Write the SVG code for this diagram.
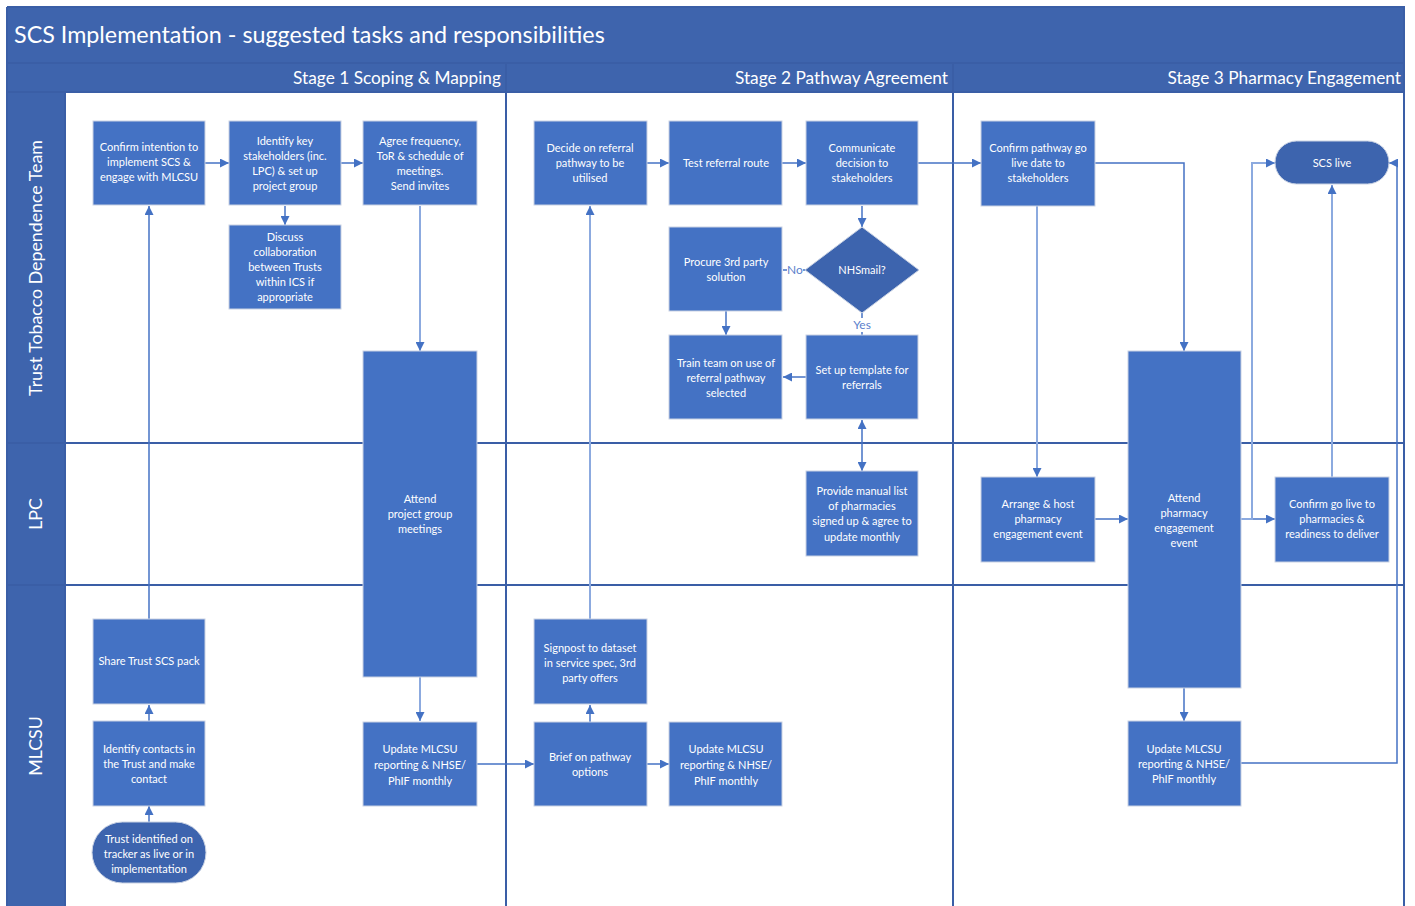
<svg xmlns="http://www.w3.org/2000/svg" width="1415" height="906" viewBox="0 0 1415 906">
<style>
.bar{fill:#3e64ad}
.frame{stroke:#3a5ea6;stroke-width:2;fill:none}
.node rect,.node path{fill:#4472c4;stroke:#c9d2e3;stroke-width:1}
.node .dark{fill:#3d64ae}
.node text{font-family:Lato,"Liberation Sans",sans-serif;font-size:11px;fill:#ffffff;text-anchor:middle}
.title{font-family:Lato,"Liberation Sans",sans-serif;font-size:23.3px;fill:#ffffff}
.stage{font-family:Lato,"Liberation Sans",sans-serif;font-size:17.3px;fill:#ffffff;text-anchor:end}
.lane{font-family:Lato,"Liberation Sans",sans-serif;font-size:17.8px;fill:#ffffff;text-anchor:middle}
.c{stroke:#4472c4;stroke-width:1.5;fill:none}
.lt{stroke:#8caadf;stroke-width:2;fill:none}
.lbl{font-family:Lato,"Liberation Sans",sans-serif;font-size:12px;fill:#5b7fcc;text-anchor:middle}
</style>
<defs>
<marker id="ah" viewBox="0 0 10 10" refX="10" refY="5" markerWidth="9" markerHeight="9" markerUnits="userSpaceOnUse" orient="auto-start-reverse">
<path d="M0,0 L10,5 L0,10 z" fill="#4472c4"/>
</marker>
</defs>
<rect x="0" y="0" width="1415" height="906" fill="#ffffff"/>
<g id="frame">
<rect class="bar" x="7" y="7" width="1398" height="56"/>
<rect class="bar" x="7" y="63" width="1398" height="29"/>
<rect class="bar" x="7" y="92" width="58" height="814"/>
<text class="title" x="14" y="43">SCS Implementation - suggested tasks and responsibilities</text>
<text class="stage" x="501" y="84">Stage 1 Scoping &amp; Mapping</text>
<text class="stage" x="948" y="84">Stage 2 Pathway Agreement</text>
<text class="stage" x="1401" y="84">Stage 3 Pharmacy Engagement</text>
<text class="lane" transform="translate(42,268) rotate(-90)">Trust Tobacco Dependence Team</text>
<text class="lane" transform="translate(42,514) rotate(-90)">LPC</text>
<text class="lane" transform="translate(42,746) rotate(-90)">MLCSU</text>
<line class="frame" x1="7" y1="63" x2="1405" y2="63" stroke="#2f5597"/>
<line class="frame" x1="7" y1="92" x2="1405" y2="92"/>
<line class="frame" x1="7" y1="443" x2="1405" y2="443"/>
<line class="frame" x1="7" y1="585" x2="1405" y2="585"/>
<line class="frame" x1="65" y1="92" x2="65" y2="906"/>
<line class="frame" x1="506" y1="63" x2="506" y2="906"/>
<line class="frame" x1="953" y1="63" x2="953" y2="906"/>
<line class="frame" x1="1404" y1="7" x2="1404" y2="906"/>
<line class="frame" x1="7" y1="7" x2="7" y2="906"/>
<line class="frame" x1="7" y1="7" x2="1405" y2="7"/>
</g>
<g id="connectors">
<line class="c" x1="205" y1="163" x2="229" y2="163" marker-end="url(#ah)"/>
<line class="c" x1="341" y1="163" x2="363" y2="163" marker-end="url(#ah)"/>
<line class="c" x1="285" y1="206" x2="285" y2="225" marker-end="url(#ah)"/>
<line class="lt" x1="420" y1="206" x2="420" y2="351" marker-end="url(#ah)"/>
<line class="c" x1="149" y1="619" x2="149" y2="206" marker-end="url(#ah)"/>
<line class="c" x1="149" y1="721" x2="149" y2="705" marker-end="url(#ah)"/>
<line class="c" x1="149" y1="822" x2="149" y2="806" marker-end="url(#ah)"/>
<line class="lt" x1="420" y1="677" x2="420" y2="721" marker-end="url(#ah)"/>
<line class="c" x1="477" y1="764" x2="534" y2="764" marker-end="url(#ah)"/>
<line class="c" x1="647" y1="163" x2="669" y2="163" marker-end="url(#ah)"/>
<line class="c" x1="782" y1="163" x2="806" y2="163" marker-end="url(#ah)"/>
<line class="c" x1="862" y1="206" x2="862" y2="227" marker-end="url(#ah)"/>
<line class="c" x1="918" y1="163" x2="981" y2="163" marker-end="url(#ah)"/>
<line class="c" x1="806" y1="270" x2="783" y2="270"/>
<line class="c" x1="726" y1="311" x2="726" y2="335" marker-end="url(#ah)"/>
<line class="c" x1="862" y1="313" x2="862" y2="335"/>
<line class="c" x1="806" y1="377" x2="783" y2="377" marker-end="url(#ah)"/>
<line class="c" x1="862" y1="420" x2="862" y2="471" marker-start="url(#ah)" marker-end="url(#ah)"/>
<line class="lt" x1="590" y1="619" x2="590" y2="206" marker-end="url(#ah)"/>
<line class="c" x1="590" y1="722" x2="590" y2="705" marker-end="url(#ah)"/>
<line class="c" x1="647" y1="764" x2="669" y2="764" marker-end="url(#ah)"/>
<polyline class="c" points="1095,163 1184,163 1184,351" marker-end="url(#ah)"/>
<line class="lt" x1="1037" y1="206" x2="1037" y2="477" marker-end="url(#ah)"/>
<line class="c" x1="1095" y1="519" x2="1128" y2="519" marker-end="url(#ah)"/>
<line class="c" x1="1241" y1="519" x2="1275" y2="519" marker-end="url(#ah)"/>
<polyline class="lt" points="1241,519 1252,519 1252,163 1275,163" marker-end="url(#ah)"/>
<line class="lt" x1="1332" y1="477" x2="1332" y2="185" marker-end="url(#ah)"/>
<line class="c" x1="1184" y1="688" x2="1184" y2="721" marker-end="url(#ah)"/>
<polyline class="c" points="1241,763 1397,763 1397,163 1389,163" marker-end="url(#ah)"/>
<rect x="787" y="263" width="16" height="14" fill="#ffffff"/>
<text class="lbl" x="795" y="274">No</text>
<rect x="851" y="318" width="22" height="14" fill="#ffffff"/>
<text class="lbl" x="862" y="329">Yes</text>
</g>
<g id="n1" class="node"><rect x="93" y="121" width="112" height="84"/><text><tspan x="149" y="151">Confirm intention to</tspan><tspan x="149" y="166">implement SCS &amp;</tspan><tspan x="149" y="181">engage with MLCSU</tspan></text></g>
<g id="n2" class="node"><rect x="229" y="121" width="112" height="84"/><text><tspan x="285" y="145">Identify key</tspan><tspan x="285" y="160">stakeholders (inc.</tspan><tspan x="285" y="175">LPC) &amp; set up</tspan><tspan x="285" y="190">project group</tspan></text></g>
<g id="n3" class="node"><rect x="363" y="121" width="114" height="84"/><text><tspan x="420" y="145">Agree frequency,</tspan><tspan x="420" y="160">ToR &amp; schedule of</tspan><tspan x="420" y="175">meetings.</tspan><tspan x="420" y="190">Send invites</tspan></text></g>
<g id="n4" class="node"><rect x="229" y="225" width="112" height="84"/><text><tspan x="285" y="241">Discuss</tspan><tspan x="285" y="256">collaboration</tspan><tspan x="285" y="271">between Trusts</tspan><tspan x="285" y="286">within ICS if</tspan><tspan x="285" y="301">appropriate</tspan></text></g>
<g id="n5" class="node"><rect x="363" y="351" width="114" height="326"/><text><tspan x="420" y="503">Attend</tspan><tspan x="420" y="518">project group</tspan><tspan x="420" y="533">meetings</tspan></text></g>
<g id="n6" class="node"><rect x="93" y="619" width="112" height="85"/><text><tspan x="149" y="665">Share Trust SCS pack</tspan></text></g>
<g id="n7" class="node"><rect x="93" y="721" width="112" height="85"/><text><tspan x="149" y="753">Identify contacts in</tspan><tspan x="149" y="768">the Trust and make</tspan><tspan x="149" y="783">contact</tspan></text></g>
<g id="n8" class="node"><rect class="dark" x="92" y="822" width="114" height="61" rx="30.5" ry="30.5"/><text><tspan x="149" y="843">Trust identified on</tspan><tspan x="149" y="858">tracker as live or in</tspan><tspan x="149" y="873">implementation</tspan></text></g>
<g id="n9" class="node"><rect x="363" y="722" width="114" height="84"/><text><tspan x="420" y="753">Update MLCSU</tspan><tspan x="420" y="769">reporting &amp; NHSE/</tspan><tspan x="420" y="785">PhIF monthly</tspan></text></g>
<g id="n10" class="node"><rect x="534" y="121" width="113" height="84"/><text><tspan x="590" y="152">Decide on referral</tspan><tspan x="590" y="167">pathway to be</tspan><tspan x="590" y="182">utilised</tspan></text></g>
<g id="n11" class="node"><rect x="669" y="121" width="113" height="84"/><text><tspan x="726" y="167">Test referral route</tspan></text></g>
<g id="n12" class="node"><rect x="806" y="121" width="112" height="84"/><text><tspan x="862" y="152">Communicate</tspan><tspan x="862" y="167">decision to</tspan><tspan x="862" y="182">stakeholders</tspan></text></g>
<g id="n13" class="node"><path class="dark" d="M862,227 L919,270 L862,313 L805,270 Z"/><text><tspan x="862" y="274">NHSmail?</tspan></text></g>
<g id="n14" class="node"><rect x="669" y="227" width="113" height="84"/><text><tspan x="726" y="266">Procure 3rd party</tspan><tspan x="726" y="281">solution</tspan></text></g>
<g id="n15" class="node"><rect x="669" y="335" width="113" height="84"/><text><tspan x="726" y="367">Train team on use of</tspan><tspan x="726" y="382">referral pathway</tspan><tspan x="726" y="397">selected</tspan></text></g>
<g id="n16" class="node"><rect x="806" y="335" width="112" height="84"/><text><tspan x="862" y="374">Set up template for</tspan><tspan x="862" y="389">referrals</tspan></text></g>
<g id="n17" class="node"><rect x="806" y="471" width="112" height="85"/><text><tspan x="862" y="495">Provide manual list</tspan><tspan x="862" y="510">of pharmacies</tspan><tspan x="862" y="525">signed up &amp; agree to</tspan><tspan x="862" y="541">update monthly</tspan></text></g>
<g id="n18" class="node"><rect x="534" y="619" width="113" height="85"/><text><tspan x="590" y="652">Signpost to dataset</tspan><tspan x="590" y="667">in service spec, 3rd</tspan><tspan x="590" y="682">party offers</tspan></text></g>
<g id="n19" class="node"><rect x="534" y="722" width="113" height="84"/><text><tspan x="590" y="761">Brief on pathway</tspan><tspan x="590" y="776">options</tspan></text></g>
<g id="n20" class="node"><rect x="669" y="722" width="113" height="84"/><text><tspan x="726" y="753">Update MLCSU</tspan><tspan x="726" y="769">reporting &amp; NHSE/</tspan><tspan x="726" y="785">PhIF monthly</tspan></text></g>
<g id="n21" class="node"><rect x="981" y="121" width="114" height="85"/><text><tspan x="1038" y="152">Confirm pathway go</tspan><tspan x="1038" y="167">live date to</tspan><tspan x="1038" y="182">stakeholders</tspan></text></g>
<g id="n22" class="node"><rect class="dark" x="1275" y="141" width="114" height="43" rx="21.5" ry="21.5"/><text><tspan x="1332" y="167">SCS live</tspan></text></g>
<g id="n23" class="node"><rect x="1128" y="351" width="113" height="337"/><text><tspan x="1184" y="502">Attend</tspan><tspan x="1184" y="517">pharmacy</tspan><tspan x="1184" y="532">engagement</tspan><tspan x="1184" y="547">event</tspan></text></g>
<g id="n24" class="node"><rect x="981" y="477" width="114" height="85"/><text><tspan x="1038" y="508">Arrange &amp; host</tspan><tspan x="1038" y="523">pharmacy</tspan><tspan x="1038" y="538">engagement event</tspan></text></g>
<g id="n25" class="node"><rect x="1275" y="477" width="114" height="85"/><text><tspan x="1332" y="508">Confirm go live to</tspan><tspan x="1332" y="523">pharmacies &amp;</tspan><tspan x="1332" y="538">readiness to deliver</tspan></text></g>
<g id="n26" class="node"><rect x="1128" y="721" width="113" height="85"/><text><tspan x="1184" y="753">Update MLCSU</tspan><tspan x="1184" y="768">reporting &amp; NHSE/</tspan><tspan x="1184" y="783">PhIF monthly</tspan></text></g>
</svg>
